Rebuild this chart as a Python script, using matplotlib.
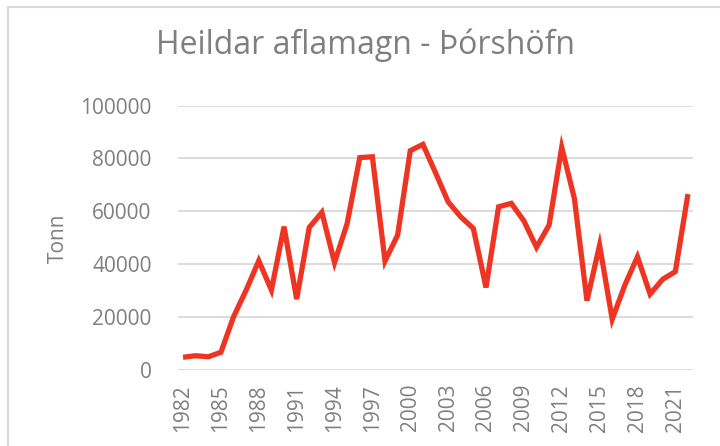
import matplotlib.pyplot as plt
from matplotlib.patches import Rectangle

# Heildar aflamagn (tonn) á Þórshöfn, 1982-2022, lesið af myndinni
ar = list(range(1982, 2023))
tonn = [4800, 5400, 5000, 6700, 20100, 30200, 41300, 30200, 54200, 26800,
        53900, 59600, 40600, 55400, 80300, 80600, 41200, 51000, 82900, 85300,
        74600, 63600, 57900, 53500, 31200, 61700, 63000, 56400, 46400, 54800,
        84200, 64900, 26200, 47200, 19200, 32100, 42800, 28700, 34300, 37200,
        66500]
x_merki = list(range(1982, 2022, 3))
y_merki = [0, 20000, 40000, 60000, 80000, 100000]

grar = '#7f7f7f'
plt.rcParams['font.family'] = ['Open Sans', 'DejaVu Sans']

fig = plt.figure(figsize=(7.2, 4.46), dpi=100)
ax = fig.add_axes([178/720, 76/446, 515/720, 264.5/446])

ax.plot(ar, tonn, color='#ee3524', linewidth=3.8, solid_joinstyle='miter',
        solid_capstyle='butt', zorder=3)

ax.set_xlim(1981.6, 2022.4)
ax.set_ylim(0, 100000)
ax.set_xticks(x_merki)
ax.set_xticklabels([str(a) for a in x_merki], rotation=90)
ax.set_yticks(y_merki)
ax.set_yticklabels([str(v) for v in y_merki])
ax.grid(axis='y', color='#d9d9d9', linewidth=1.3)
ax.set_axisbelow(True)
for s in ax.spines.values():
    s.set_visible(False)
ax.tick_params(axis='both', length=0, labelsize=15, labelcolor=grar)
ax.tick_params(axis='y', pad=19)
ax.tick_params(axis='x', pad=10)

fig.text(58/720, 0.5 + (446/2 - 238)/446, 'Tonn', rotation=90, fontsize=15,
         color=grar, ha='center', va='center')
fig.text(366/720, 1 - 45/446, 'Heildar aflamagn - Þórshöfn', fontsize=23,
         color=grar, ha='center', va='center')

# rammi utan um myndina
fig.patches.append(Rectangle((8/720, -0.1), 1.2, 1 - 7/446 + 0.1,
                             transform=fig.transFigure, fill=False,
                             edgecolor='#d9d9d9', linewidth=1.5))

fig.savefig('out.png', dpi=100)
